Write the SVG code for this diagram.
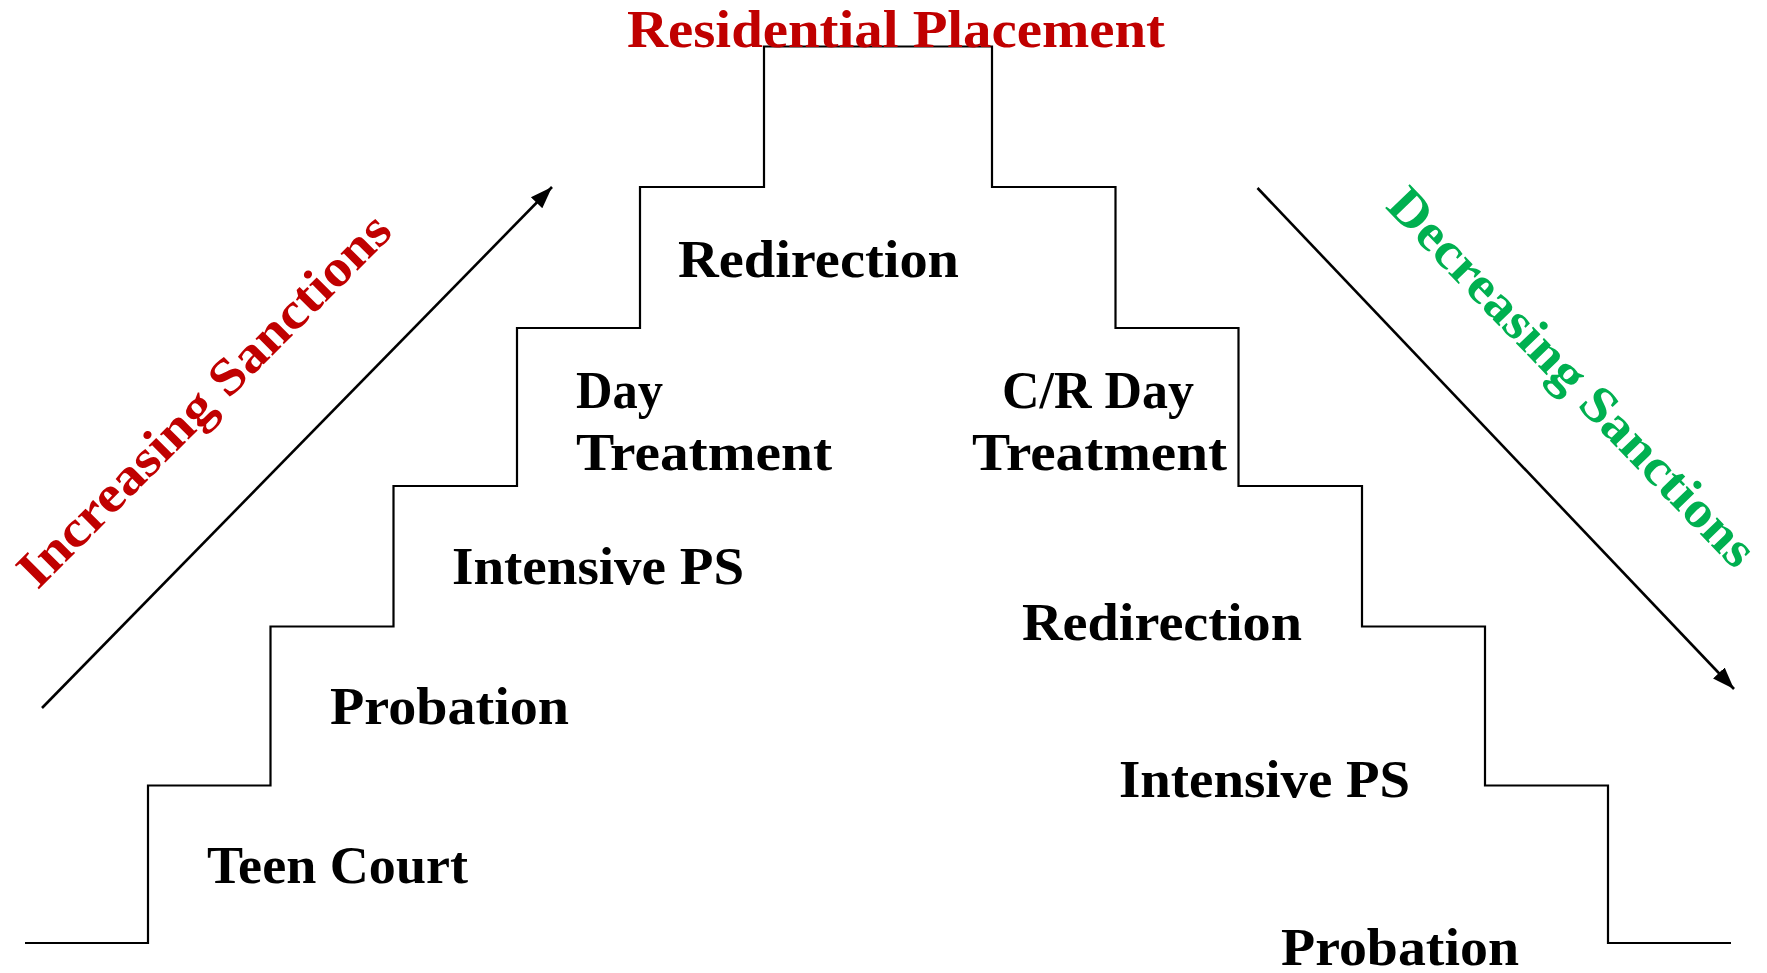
<svg xmlns="http://www.w3.org/2000/svg" width="1767" height="973" viewBox="0 0 1767 973">
<defs>
<style>
.lbl{font-family:"Liberation Serif","DejaVu Serif",serif;font-weight:bold;font-size:52px;fill:#000}
.red{fill:#C00000}
.green{fill:#00B050}
.stair{fill:none;stroke:#000;stroke-width:2.2;stroke-linejoin:miter}
.arr{stroke:#000;stroke-width:2.6;fill:none}
</style>
<marker id="ah" markerUnits="userSpaceOnUse" markerWidth="24" markerHeight="20" viewBox="0 0 24 20" refX="22" refY="10" orient="auto">
<path d="M0,2 L22,10 L0,18 Z" fill="#000"/>
</marker>
</defs>
<rect width="1767" height="973" fill="#fff"/>
<g id="connectors">
<path id="staircase" class="stair" d="M25,943 H148 V785.5 H270.5 V626.5 H393.5 V486 H517 V328 H640 V187 H764 V46.5 H992 V187 H1115.5 V328 H1238.5 V486 H1362 V626.5 H1485 V785.5 H1608 V943 H1731"/>
<line id="arrow-up" class="arr" x1="42" y1="708" x2="552" y2="187" marker-end="url(#ah)"/>
<line id="arrow-down" class="arr" x1="1257.5" y1="188" x2="1734" y2="689" marker-end="url(#ah)"/>
</g>
<g id="title"><text class="lbl red" x="627" y="47" textLength="538" lengthAdjust="spacingAndGlyphs">Residential Placement</text></g>
<g id="increasing"><text class="lbl red" x="216" y="412" text-anchor="middle" textLength="505" lengthAdjust="spacingAndGlyphs" transform="rotate(-45 216 412)">Increasing Sanctions</text></g>
<g id="decreasing"><text class="lbl green" x="1560" y="389" text-anchor="middle" textLength="505" lengthAdjust="spacingAndGlyphs" transform="rotate(46 1560 389)">Decreasing Sanctions</text></g>
<g id="teen-court"><text class="lbl" x="207" y="883" textLength="261" lengthAdjust="spacingAndGlyphs">Teen Court</text></g>
<g id="probation-left"><text class="lbl" x="330" y="724" textLength="239" lengthAdjust="spacingAndGlyphs">Probation</text></g>
<g id="intensive-left"><text class="lbl" x="452" y="584" textLength="292" lengthAdjust="spacingAndGlyphs">Intensive PS</text></g>
<g id="day-treatment"><text class="lbl" x="576" y="408" textLength="87" lengthAdjust="spacingAndGlyphs">Day</text><text class="lbl" x="576" y="470" textLength="256" lengthAdjust="spacingAndGlyphs">Treatment</text></g>
<g id="redirection-top"><text class="lbl" x="678" y="277" textLength="281" lengthAdjust="spacingAndGlyphs">Redirection</text></g>
<g id="cr-day-treatment"><text class="lbl" x="1002" y="408" textLength="192" lengthAdjust="spacingAndGlyphs">C/R Day</text><text class="lbl" x="972" y="470" textLength="255" lengthAdjust="spacingAndGlyphs">Treatment</text></g>
<g id="redirection-right"><text class="lbl" x="1022" y="640" textLength="280" lengthAdjust="spacingAndGlyphs">Redirection</text></g>
<g id="intensive-right"><text class="lbl" x="1119" y="797" textLength="291" lengthAdjust="spacingAndGlyphs">Intensive PS</text></g>
<g id="probation-right"><text class="lbl" x="1281" y="965" textLength="238" lengthAdjust="spacingAndGlyphs">Probation</text></g>
</svg>
